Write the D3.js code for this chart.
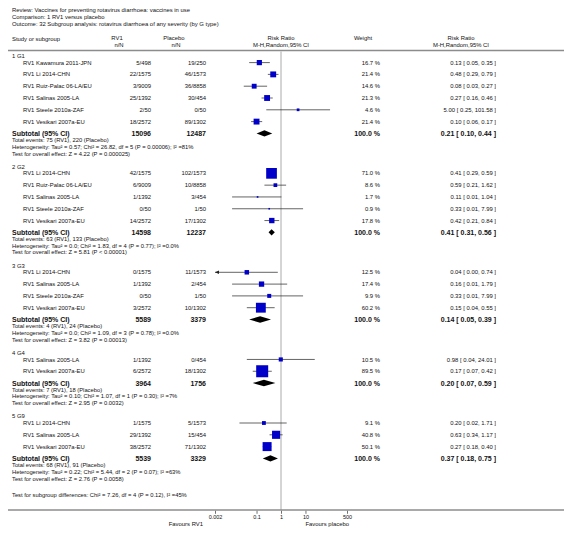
<!DOCTYPE html>
<html><head><meta charset="utf-8">
<script src="https://cdn.jsdelivr.net/npm/d3@7/dist/d3.min.js"></script>
<style>
body{margin:0;background:#fff}
svg{display:block}
text{font-family:"Liberation Sans",Arial,Helvetica,sans-serif;fill:#111}
</style>
</head><body>
<svg id="chart" width="566" height="533"></svg>
<script>
// ---------------- DATA ----------------
const titleLines = [
  "Review:  Vaccines for preventing rotavirus diarrhoea: vaccines in use",
  "Comparison:  1 RV1 versus placebo",
  "Outcome:  32 Subgroup analysis: rotavirus diarrhoea of any severity (by G type)"
];
const groupLabels = ["1 G1", "2 G2", "3 G3", "4 G4", "5 G9"];

const studyGroup = [0,0,0,0,0,0, 1,1,1,1,1, 2,2,2,2, 3,3, 4,4,4];
const studyNames = [
  "RV1 Kawamura 2011-JPN","RV1 Li 2014-CHN","RV1 Ruiz-Palac 06-LA/EU","RV1 Salinas 2005-LA","RV1 Steele 2010a-ZAF","RV1 Vesikari 2007a-EU",
  "RV1 Li 2014-CHN","RV1 Ruiz-Palac 06-LA/EU","RV1 Salinas 2005-LA","RV1 Steele 2010a-ZAF","RV1 Vesikari 2007a-EU",
  "RV1 Li 2014-CHN","RV1 Salinas 2005-LA","RV1 Steele 2010a-ZAF","RV1 Vesikari 2007a-EU",
  "RV1 Salinas 2005-LA","RV1 Vesikari 2007a-EU",
  "RV1 Li 2014-CHN","RV1 Salinas 2005-LA","RV1 Vesikari 2007a-EU"
];
const rv1nN = ["5/498","22/1575","3/9009","25/1392","2/50","18/2572",
  "42/1575","6/9009","1/1392","0/50","14/2572",
  "0/1575","1/1392","0/50","3/2572",
  "1/1392","6/2572",
  "1/1575","29/1392","38/2572"];
const placeboNN = ["19/250","46/1573","36/8858","30/454","0/50","89/1302",
  "102/1573","10/8858","3/454","1/50","17/1302",
  "11/1573","2/454","1/50","10/1302",
  "0/454","18/1302",
  "5/1573","15/454","71/1302"];
const weights = [16.7,21.4,14.6,21.3,4.6,21.4, 71.0,8.6,1.7,0.9,17.8, 12.5,17.4,9.9,60.2, 10.5,89.5, 9.1,40.8,50.1];
const rr     = [0.13,0.48,0.08,0.27,5.00,0.10, 0.41,0.59,0.11,0.33,0.42, 0.04,0.16,0.33,0.15, 0.98,0.17, 0.20,0.63,0.27];
const ciLow  = [0.05,0.29,0.03,0.16,0.25,0.06, 0.29,0.21,0.01,0.01,0.21, 0.00,0.01,0.01,0.04, 0.04,0.07, 0.02,0.34,0.18];
const ciHigh = [0.35,0.79,0.27,0.46,101.58,0.17, 0.59,1.62,1.04,7.99,0.84, 0.74,1.79,7.99,0.55, 24.01,0.42, 1.71,1.17,0.40];

const subRV1     = [15096, 14598, 5589, 3964, 5539];
const subPlacebo = [12487, 12237, 3379, 1756, 3329];
const subRR      = [0.21, 0.41, 0.14, 0.20, 0.37];
const subLow     = [0.10, 0.31, 0.05, 0.07, 0.18];
const subHigh    = [0.44, 0.56, 0.39, 0.59, 0.75];
const totalEvents = [
  "Total events: 75 (RV1), 220 (Placebo)",
  "Total events: 63 (RV1), 133 (Placebo)",
  "Total events: 4 (RV1), 24 (Placebo)",
  "Total events: 7 (RV1), 18 (Placebo)",
  "Total events: 68 (RV1), 91 (Placebo)"
];
const heterogeneity = [
  "Heterogeneity: Tau\u00b2 = 0.57; Chi\u00b2 = 26.82, df = 5 (P = 0.00006); I\u00b2 =81%",
  "Heterogeneity: Tau\u00b2 = 0.0; Chi\u00b2 = 1.83, df = 4 (P = 0.77); I\u00b2 =0.0%",
  "Heterogeneity: Tau\u00b2 = 0.0; Chi\u00b2 = 1.09, df = 3 (P = 0.78); I\u00b2 =0.0%",
  "Heterogeneity: Tau\u00b2 = 0.10; Chi\u00b2 = 1.07, df = 1 (P = 0.30); I\u00b2 =7%",
  "Heterogeneity: Tau\u00b2 = 0.22; Chi\u00b2 = 5.44, df = 2 (P = 0.07); I\u00b2 =63%"
];
const overallEffect = [
  "Test for overall effect: Z = 4.22 (P = 0.000025)",
  "Test for overall effect: Z = 5.81 (P < 0.00001)",
  "Test for overall effect: Z = 3.82 (P = 0.00013)",
  "Test for overall effect: Z = 2.95 (P = 0.0032)",
  "Test for overall effect: Z = 2.76 (P = 0.0058)"
];
const subgroupTest = "Test for subgroup differences: Chi\u00b2 = 7.26, df = 4 (P = 0.12), I\u00b2 =45%";
const tickValues = [0.002, 0.1, 1, 10, 500];
const tickLabels = ["0.002", "0.1", "1", "10", "500"];
const favoursLeft = "Favours RV1";
const favoursRight = "Favours placebo";

// ---------------- LAYOUT ----------------
const svg = d3.select("#chart");
const FS = 5.9, FSB = 7, FSF = 5.8;
const colStudy = 12, colStudyIndent = 23;
const colRV1 = 151, colPlac = 206, colWeight = 380, colRR = 496;
const x = d3.scaleLog().domain([0.002, 500]).range([215, 347]);
const sq = d3.scaleSqrt().domain([0, 100]).range([0, 12.7]);
const BLUE = "#0000c8";

function txt(g, px, py, s, o = {}) {
  return g.append("text").attr("x", px).attr("y", py).attr("dy", "0.35em")
    .attr("text-anchor", o.anchor || "start")
    .attr("font-size", o.size || FS)
    .attr("font-weight", o.bold ? "bold" : "normal")
    .text(s);
}
const fmt = v => v.toFixed(2);
const ciText = (r, l, h) => `${fmt(r)} [ ${fmt(l)}, ${fmt(h)} ]`;

// title block
titleLines.forEach((t, i) => txt(svg, colStudy, 9.5 + i * 7, t));

// header
const hdr = svg.append("g");
txt(hdr, colStudy, 38.5, "Study or subgroup");
txt(hdr, 117, 38, "RV1", {anchor: "middle"});
txt(hdr, 119, 45, "n/N", {anchor: "middle"});
txt(hdr, 174, 38, "Placebo", {anchor: "middle"});
txt(hdr, 176, 45, "n/N", {anchor: "middle"});
txt(hdr, x(1), 38, "Risk Ratio", {anchor: "middle"});
txt(hdr, x(1), 45, "M-H,Random,95% CI", {anchor: "middle"});
txt(hdr, 363, 38, "Weight", {anchor: "middle"});
txt(hdr, 461, 38, "Risk Ratio", {anchor: "middle"});
txt(hdr, 461, 45, "M-H,Random,95% CI", {anchor: "middle"});

const lineTop = 50.5;
svg.append("line").attr("x1", 8).attr("x2", 564).attr("y1", lineTop).attr("y2", lineTop)
  .attr("stroke", "#8c8c8c").attr("stroke-width", 1.6);

// row layout with a cursor
const H2S = 6.6, S2S = 11.8, S2SUB = 11.8, FOOT = 6.7, NEXT = 13.25;
let y = 56;
const rows = [];
groupLabels.forEach((gl, gi) => {
  rows.push({type: "group", gi, y});
  const idx = studyGroup.map((g, i) => g === gi ? i : -1).filter(i => i >= 0);
  y += H2S;
  idx.forEach((si, k) => {
    if (k > 0) y += S2S;
    rows.push({type: "study", si, y});
  });
  y += S2SUB;
  rows.push({type: "sub", gi, y});
  y += FOOT; rows.push({type: "events", gi, y});
  y += FOOT; rows.push({type: "het", gi, y});
  y += FOOT; rows.push({type: "eff", gi, y});
  if (gi < groupLabels.length - 1) y += NEXT;
});
y += 16;
const ySubgroup = y;
const yAxis = y + 15.5;

// null line
svg.append("line").attr("x1", x(1)).attr("x2", x(1)).attr("y1", lineTop + 1).attr("y2", yAxis)
  .attr("stroke", "#a0a0a0").attr("stroke-width", 0.9);

const body = svg.append("g");
rows.forEach(r => {
  if (r.type === "group") {
    txt(body, colStudy, r.y, groupLabels[r.gi]);
  } else if (r.type === "study") {
    const i = r.si;
    txt(body, colStudyIndent, r.y, studyNames[i]);
    txt(body, colRV1, r.y, rv1nN[i], {anchor: "end"});
    txt(body, colPlac, r.y, placeboNN[i], {anchor: "end"});
    txt(body, colWeight, r.y, weights[i].toFixed(1) + " %", {anchor: "end"});
    txt(body, colRR, r.y, ciText(rr[i], ciLow[i], ciHigh[i]), {anchor: "end"});
    // CI line
    const [dmin, dmax] = x.domain();
    const lo = Math.max(ciLow[i], dmin), hi = Math.min(ciHigh[i], dmax);
    const x1 = x(lo), x2 = x(hi);
    body.append("line").attr("x1", x1).attr("x2", x2).attr("y1", r.y).attr("y2", r.y)
      .attr("stroke", "#222").attr("stroke-width", 0.7);
    if (ciLow[i] < dmin) {
      body.append("path").attr("d", `M${x1},${r.y} l4,-1.8 l0,3.6 z`).attr("fill", "#222");
    }
    if (ciHigh[i] > dmax) {
      body.append("path").attr("d", `M${x2},${r.y} l-4,-1.8 l0,3.6 z`).attr("fill", "#222");
    }
    const s = Math.max(sq(weights[i]), 1.6);
    body.append("rect").attr("x", x(rr[i]) - s / 2).attr("y", r.y - s / 2)
      .attr("width", s).attr("height", s).attr("fill", BLUE);
  } else if (r.type === "sub") {
    const g = r.gi;
    txt(body, colStudy, r.y, "Subtotal (95% CI)", {bold: true, size: FSB});
    txt(body, colRV1, r.y, String(subRV1[g]), {anchor: "end", bold: true, size: FSB});
    txt(body, colPlac, r.y, String(subPlacebo[g]), {anchor: "end", bold: true, size: FSB});
    txt(body, colWeight, r.y, "100.0 %", {anchor: "end", bold: true, size: FSB});
    txt(body, colRR, r.y, ciText(subRR[g], subLow[g], subHigh[g]), {anchor: "end", bold: true, size: FSB});
    const h = 3.2;
    body.append("path")
      .attr("d", `M${x(subLow[g])},${r.y} L${x(subRR[g])},${r.y - h} L${x(subHigh[g])},${r.y} L${x(subRR[g])},${r.y + h} Z`)
      .attr("fill", "#000");
  } else if (r.type === "events") {
    txt(body, colStudy, r.y, totalEvents[r.gi], {size: FSF});
  } else if (r.type === "het") {
    txt(body, colStudy, r.y, heterogeneity[r.gi], {size: FSF});
  } else if (r.type === "eff") {
    txt(body, colStudy, r.y, overallEffect[r.gi], {size: FSF});
  }
});

txt(svg, colStudy, ySubgroup, subgroupTest, {size: FSF});

// bottom axis
svg.append("line").attr("x1", 8).attr("x2", 564).attr("y1", yAxis).attr("y2", yAxis)
  .attr("stroke", "#8c8c8c").attr("stroke-width", 1.6);
const axis = d3.axisBottom(x).tickValues(tickValues)
  .tickFormat((d, i) => tickLabels[i]).tickSize(3).tickPadding(1.5);
const ag = svg.append("g").attr("transform", `translate(0,${yAxis + 0.8})`).call(axis);
ag.select(".domain").remove();
ag.selectAll(".tick line").attr("stroke", "#333").attr("stroke-width", 0.7);
ag.selectAll(".tick text").attr("font-size", 5.5).attr("fill", "#111")
  .style("font-family", '"Liberation Sans",Arial,sans-serif');

txt(svg, x(1) - 78, yAxis + 14, favoursLeft, {anchor: "end"});
txt(svg, x(10), yAxis + 14, favoursRight);
</script>
</body></html>
